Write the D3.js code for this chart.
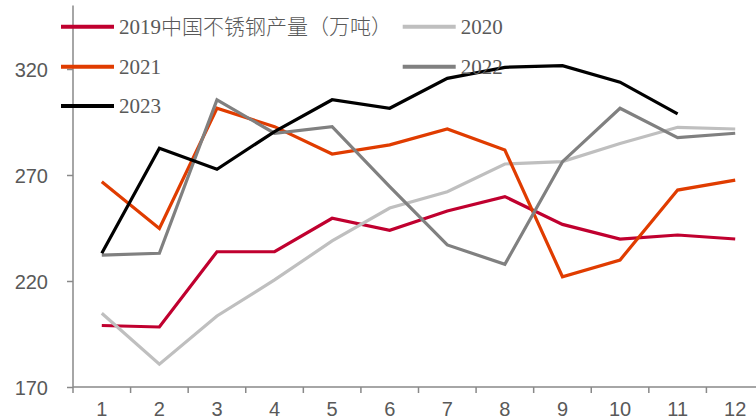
<!DOCTYPE html>
<html><head><meta charset="utf-8">
<script src="https://cdn.jsdelivr.net/npm/d3@7"></script>
<style>html,body{margin:0;padding:0;background:#fff;overflow:hidden}</style>
</head><body>
<svg id="c" width="756" height="419"></svg>
<script>
const months = [1,2,3,4,5,6,7,8,9,10,11,12];
const yTicks = [170,220,270,320];
const seriesNames = ["2019中国不锈钢产量（万吨）","2020","2021","2022","2023"];
const v2019 = [199,198.3,233.8,233.8,249.6,243.9,253,259.8,246.7,239.8,241.7,239.8];
const v2020 = [204.8,180.8,203.5,220.5,238.9,254.4,262.1,275.2,276.3,284.9,292.5,291.7];
const v2021 = [266.8,244.8,301.5,292.8,279.9,284.2,291.7,281.8,222,229.9,262.9,267.6];
const v2022 = [232.2,233.1,305.4,289.7,292.8,264.5,237,227.9,276.3,301.5,287.6,289.7];
const v2023 = [233.1,282.6,272.7,290.5,305.5,301.5,315.6,320.8,321.6,313.8,298.8];
const colors = ["#C0002F","#BFBFBF","#E03C00","#808080","#000000"];
const allValues = [v2019,v2020,v2021,v2022,v2023];

const svg = d3.select("#c");
const axisColor = "#898989", textColor = "#595959";
const x = d3.scaleBand().domain(months).range([73,764]);
const y = d3.scaleLinear().domain([170,350]).range([387,5.4]);

// y axis
const ya = svg.append("g").attr("transform","translate(73,0)")
  .call(d3.axisLeft(y).tickValues(yTicks).tickSize(6).tickPadding(19));
ya.select(".domain").attr("stroke",axisColor).attr("stroke-width",1.5).attr("d","M0,"+y(350)+"V"+y(170));
ya.selectAll(".tick line").attr("stroke",axisColor).attr("stroke-width",1.5);
ya.selectAll(".tick text").attr("fill",textColor).style("font-family","'Liberation Sans',Arial,sans-serif").style("font-size","20px").attr("dy","0.35em");

// x axis
const xa = svg.append("g").attr("transform","translate(0,387)")
  .call(d3.axisBottom(x).tickSize(0).tickPadding(15));
xa.select(".domain").attr("stroke",axisColor).attr("stroke-width",1.5).attr("d","M73,0H764");
xa.selectAll(".tick text").attr("fill",textColor).style("font-family","'Liberation Sans',Arial,sans-serif").style("font-size","20px");
const bounds = months.map(m=>x(m)).concat([x(12)+x.bandwidth()]);
xa.selectAll("line.bt").data(bounds).enter().append("line").attr("class","bt")
  .attr("x1",d=>d).attr("x2",d=>d).attr("y1",0).attr("y2",6)
  .attr("stroke",axisColor).attr("stroke-width",1.5);

// lines
const line = d3.line().x((d,i)=>x(months[i])+x.bandwidth()/2).y(d=>y(d));
allValues.forEach((vals,k)=>{
  svg.append("path").attr("d",line(vals)).attr("fill","none")
    .attr("stroke",colors[k]).attr("stroke-width",3.2).attr("stroke-linejoin","miter");
});

// legend
const legPos = [[61,26.7],[402.7,26.7],[61,66.7],[402.7,66.7],[61,106]];
seriesNames.forEach((n,k)=>{
  const [lx,ly] = legPos[k];
  svg.append("line").attr("x1",lx).attr("x2",lx+53).attr("y1",ly).attr("y2",ly)
    .attr("stroke",colors[k]).attr("stroke-width",4);
  svg.append("text").attr("x",lx+58).attr("y",ly).attr("dy","0.35em").text(n)
    .attr("fill",textColor).style("font-family","'Liberation Serif','Times New Roman','Noto Sans CJK SC',serif")
    .style("font-size","21px").style("font-weight","300");
});
</script>
</body></html>
